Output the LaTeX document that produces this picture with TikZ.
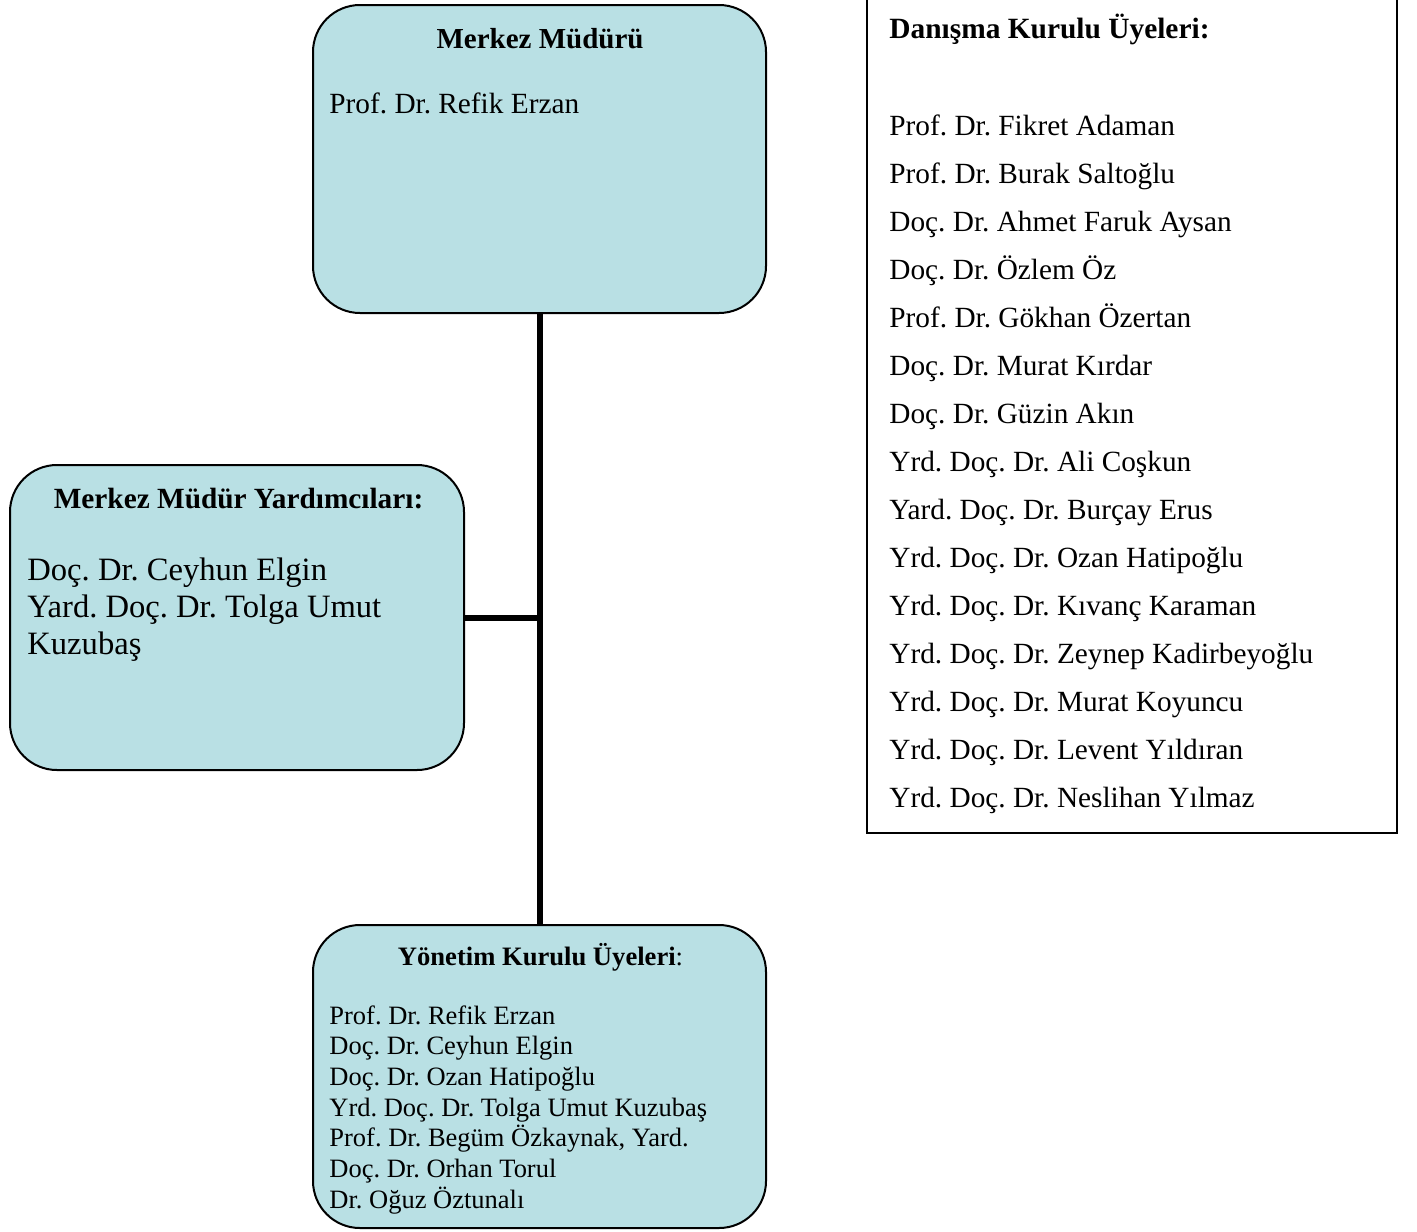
\documentclass[tikz,border=0pt]{standalone}
\usepackage{fontspec}
\setmainfont{Liberation Serif}
\frenchspacing
\definecolor{boxfill}{RGB}{185,224,228}
\begin{document}
\frenchspacing
\begin{tikzpicture}[x=0.5pt,y=-0.5pt,
  rbox/.style={draw=black,line width=1pt,fill=boxfill,rounded corners=23.5pt,inner sep=0pt},
  sbox/.style={draw=black,line width=1pt,fill=white,inner sep=0pt},
  conn/.style={line width=3pt},
  headc/.style={anchor=base,inner sep=0pt,font=\fontsize{14.5pt}{17pt}\selectfont\bfseries},
  headw/.style={anchor=base west,inner sep=0pt,font=\fontsize{14.7pt}{17pt}\selectfont\bfseries},
  txtA/.style={anchor=base west,inner sep=0pt,font=\fontsize{14.65pt}{17pt}\selectfont},
  txtB/.style={anchor=base west,inner sep=0pt,font=\fontsize{16.3pt}{18pt}\selectfont},
  txtC/.style={anchor=base west,inner sep=0pt,font=\fontsize{13.25pt}{15pt}\selectfont}]
\useasboundingbox (0,0) rectangle (1417,1231);
% boxes
\node[rbox,minimum width=226.5pt,minimum height=154pt] (top) at (539.5,159) {};
\node[rbox,minimum width=227pt,minimum height=152.5pt] (left) at (237,617.5) {};
\node[rbox,minimum width=226.5pt,minimum height=151.5pt] (bot) at (539.5,1076.5) {};
\node[sbox,minimum width=265pt,minimum height=418pt] (adv) at (1132,415) {};
% connectors
\coordinate (j) at (top.south |- left.east);
\draw[conn] (top.south) -- (bot.north);
\draw[conn] (left.east) -- (j);
% top box text
\node[headc] (topH) at (540,48) {Merkez Müdürü};
\node[txtA] (topT) at (329,113) {Prof. Dr. Refik Erzan};
% left box text
\node[headc,font=\fontsize{14.65pt}{17pt}\selectfont\bfseries] (leftH) at (238.5,508) {Merkez Müdür Yardımcıları:};
\node[txtB] (l0) at (27,580) {Doç. Dr. Ceyhun Elgin};
\node[txtB] (l1) at (27,617) {Yard. Doç. Dr. Tolga Umut};
\node[txtB] (l2) at (27,654) {Kuzubaş};
% bottom box text
\node[headc,font=\fontsize{13.3pt}{15pt}\selectfont] (botH) at (540.5,965) {\textbf{Yönetim Kurulu Üyeleri}:};
\foreach \t [count=\i from 0] in {Prof. Dr. Refik Erzan, Doç. Dr. Ceyhun Elgin, Doç. Dr. Ozan Hatipoğlu, Yrd. Doç. Dr. Tolga Umut Kuzubaş, {Prof. Dr. Begüm Özkaynak, Yard.}, Doç. Dr. Orhan Torul, Dr. Oğuz Öztunalı}
  \node[txtC] (b\i) at (329,{1024+30.7*\i}) {\t};
% advisory board
\node[headw] (advH) at (889,39) {Danışma Kurulu Üyeleri:};
\foreach \t [count=\i from 0] in {Prof. Dr. Fikret Adaman, Prof. Dr. Burak Saltoğlu, Doç. Dr. Ahmet Faruk Aysan, Doç. Dr. Özlem Öz, Prof. Dr. Gökhan Özertan, Doç. Dr. Murat Kırdar, Doç. Dr. Güzin Akın, Yrd. Doç. Dr. Ali Coşkun, Yard. Doç. Dr. Burçay Erus, Yrd. Doç. Dr. Ozan Hatipoğlu, Yrd. Doç. Dr. Kıvanç Karaman, Yrd. Doç. Dr. Zeynep Kadirbeyoğlu, Yrd. Doç. Dr. Murat Koyuncu, Yrd. Doç. Dr. Levent Yıldıran, Yrd. Doç. Dr. Neslihan Yılmaz}
  \node[txtA] (r\i) at (889,{135+48*\i}) {\t};
\end{tikzpicture}
\end{document}
